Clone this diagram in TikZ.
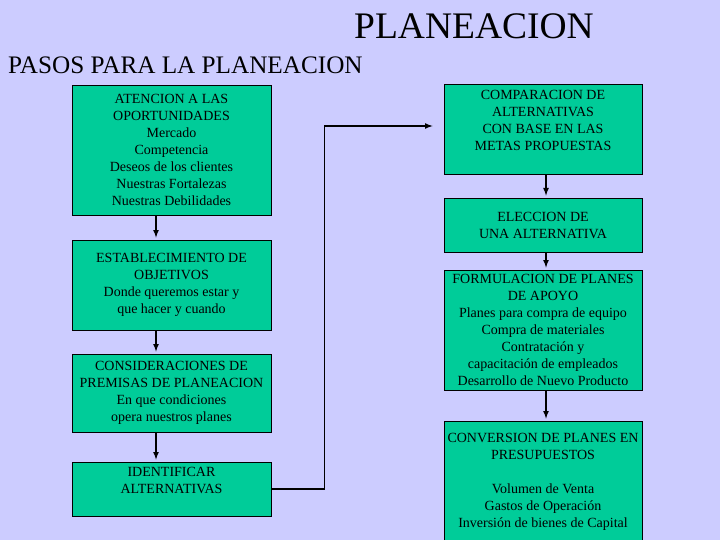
\documentclass[tikz,border=0pt]{standalone}
\usepackage{fontspec}
\setmainfont{Liberation Serif}
\usetikzlibrary{positioning}
\definecolor{fondo}{RGB}{204,204,255}
\definecolor{verde}{RGB}{0,204,153}
\tikzset{
  caja/.style={draw=black, fill=verde, line width=0.8pt, align=center, inner sep=0pt, font=\fontsize{14}{17}\selectfont},
  texto/.style={align=center, inner sep=0pt, font=\fontsize{14}{17}\selectfont},
  flecha/.style={-latex, line width=1.6pt, shorten >=2pt}
}
\begin{document}
\begin{tikzpicture}[x=1pt,y=-1pt]
    %fondo
    \clip (0,0) rectangle (720,540);
    \fill[fondo] (0,0) rectangle (720,540);
    %titulos
    \node[font=\fontsize{37.5}{40}\selectfont] (titulo) at (474,26) {PLANEACION};
    \node[font=\fontsize{25.2}{28}\selectfont, anchor=west, inner sep=0pt] (pasos) at (8,65) {PASOS PARA LA PLANEACION};
    %%%%%%%%%%%%%%%%%%%%%%%%%%%%%%%%%%%%%%%%%%%%%%%%%%%%%%%%%%%%%%%%%%%%%%%%%%
    %columna izquierda
    \node[caja, minimum width=199pt, minimum height=130pt] (atencion) at (171.5,150)
      {ATENCION A LAS\\OPORTUNIDADES\\Mercado\\Competencia\\Deseos de los clientes\\Nuestras Fortalezas\\Nuestras Debilidades};
    \node[caja, minimum width=199pt, minimum height=90pt] (objetivos) at (171.5,285)
      {ESTABLECIMIENTO DE\\OBJETIVOS\\Donde queremos estar y\\que hacer y cuando};
    \node[caja, minimum width=199pt, minimum height=78pt] (premisas) at (171.5,393)
      {CONSIDERACIONES DE\\PREMISAS DE PLANEACION\\En que condiciones\\opera nuestros planes};
    \node[caja, minimum width=199pt, minimum height=54pt] (identificar) at (171.5,489) {};
    \node[texto, below=5pt of identificar.north] (tidentificar) {IDENTIFICAR\\ALTERNATIVAS};
    %%%%%%%%%%%%%%%%%%%%%%%%%%%%%%%%%%%%%%%%%%%%%%%%%%%%%%%%%%%%%%%%%%%%%%%%%%
    %columna derecha
    \node[caja, minimum width=198pt, minimum height=90pt] (comparacion) at (543,129) {};
    \node[texto, below=6pt of comparacion.north] (tcomparacion)
      {COMPARACION DE\\ALTERNATIVAS\\CON BASE EN LAS\\METAS PROPUESTAS};
    \node[caja, minimum width=198pt, minimum height=54pt] (eleccion) at (543,225)
      {ELECCION DE\\UNA ALTERNATIVA};
    \node[caja, minimum width=198pt, minimum height=120pt] (formulacion) at (543,330)
      {FORMULACION DE PLANES\\DE APOYO\\Planes para compra de equipo\\Compra de materiales\\Contratación y\\capacitación de empleados\\Desarrollo de Nuevo Producto};
    \node[caja, minimum width=198pt, minimum height=127pt] (conversion) at (543,484.5) {};
    \node[texto, below=12pt of conversion.north] (tconversion)
      {CONVERSION DE PLANES EN\\PRESUPUESTOS\\[17pt]Volumen de Venta\\Gastos de Operación\\Inversión de bienes de Capital};
    %%%%%%%%%%%%%%%%%%%%%%%%%%%%%%%%%%%%%%%%%%%%%%%%%%%%%%%%%%%%%%%%%%%%%%%%%%
    %flechas
    \draw[flecha] ([xshift=-15.5pt]atencion.south) -- ([xshift=-15.5pt]objetivos.north);
    \draw[flecha] ([xshift=-15.5pt]objetivos.south) -- ([xshift=-15.5pt]premisas.north);
    \draw[flecha] ([xshift=-15.5pt]premisas.south) -- ([xshift=-15.5pt]identificar.north);
    \draw[flecha, shorten >=11pt] (identificar.east) -- ++(53,0) |- ([yshift=3pt]comparacion.west);
    \draw[flecha] ([xshift=3pt]comparacion.south) -- ([xshift=3pt]eleccion.north);
    \draw[flecha] ([xshift=3pt]eleccion.south) -- ([xshift=3pt]formulacion.north);
    \draw[flecha] ([xshift=3pt]formulacion.south) -- ([xshift=3pt]conversion.north);
\end{tikzpicture}
\end{document}
